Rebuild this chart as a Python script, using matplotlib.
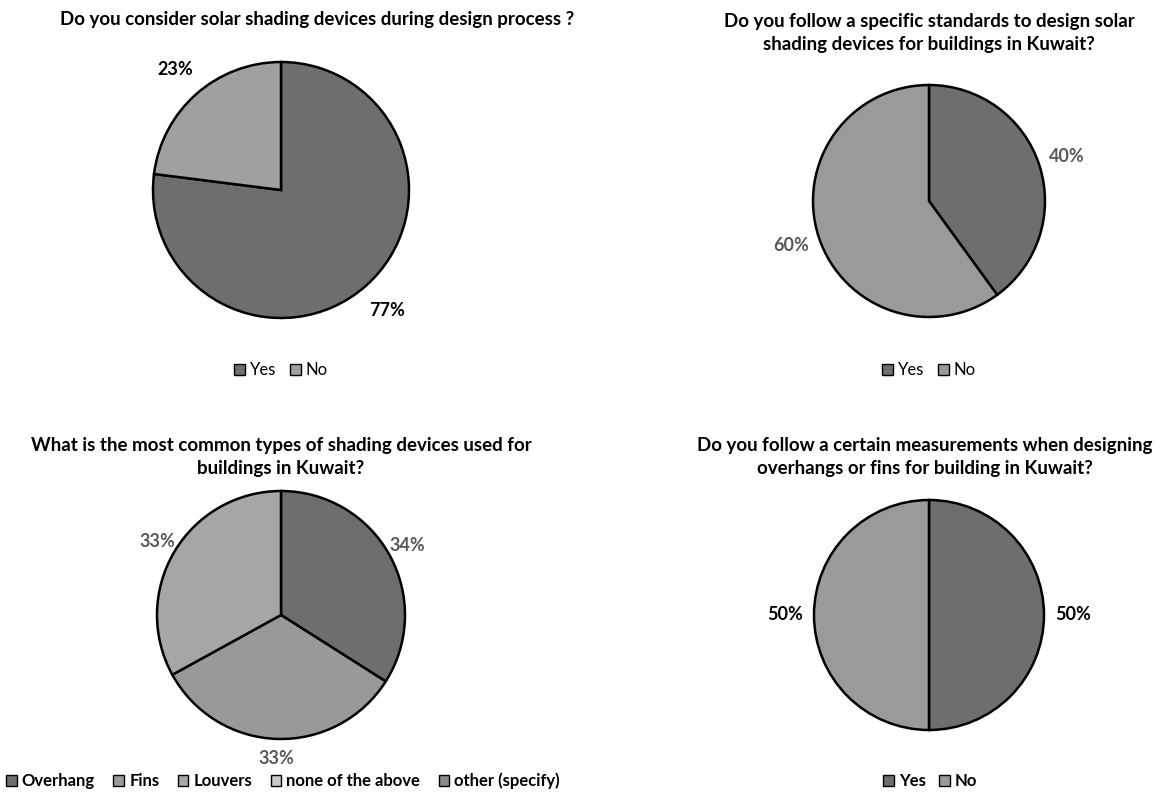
import matplotlib.pyplot as plt
from matplotlib.patches import Patch

plt.rcParams['font.family'] = ['Lato', 'DejaVu Sans']

W, H = 1168, 799

# survey answers
q1_title = "Do you consider solar shading devices during design process ?"
q1_labels = ["Yes", "No"]
q1_values = [77, 23]

q2_title = "Do you follow a specific standards to design solar\nshading devices for buildings in Kuwait?"
q2_labels = ["Yes", "No"]
q2_values = [40, 60]

q3_title = "What is the most common types of shading devices used for\nbuildings in Kuwait?"
q3_labels = ["Overhang", "Fins", "Louvers", "none of the above", "other (specify)"]
q3_values = [34, 33, 33, 0, 0]

q4_title = "Do you follow a certain measurements when designing\noverhangs or fins for building in Kuwait?"
q4_labels = ["Yes", "No"]
q4_values = [50, 50]

fig = plt.figure(figsize=(W / 100, H / 100), dpi=100)


def pie_axes(cx, cy, r):
    # axes in pixel coords, square around pie center
    pad = 1.45 * r
    return fig.add_axes([(cx - pad) / W, 1 - (cy + pad) / H, 2 * pad / W, 2 * pad / H])


def draw_pie(cx, cy, r, values, colors, lblcolor, dist=1.25):
    ax = pie_axes(cx, cy, r)
    shown = [v for v in values if v > 0]
    ax.pie(shown, colors=colors[:len(shown)], startangle=90, counterclock=False,
           radius=1 / 1.45, labels=[f"{v}%" for v in shown], labeldistance=dist,
           wedgeprops=dict(edgecolor='black', linewidth=1.8),
           textprops=dict(fontsize=13, fontweight='bold', color=lblcolor, ha='center', va='center'))
    ax.set_xlim(-1, 1)
    ax.set_ylim(-1, 1)
    ax.set_aspect('equal')
    ax.axis('off')
    return ax


def legend(x, y, labels, colors, bold, gap):
    handles = [Patch(facecolor=c, edgecolor='black', linewidth=1.0) for c in colors]
    fig.legend(handles, labels, loc='center', bbox_to_anchor=(x / W, 1 - y / H), ncol=len(labels),
               frameon=False, handlelength=0.65, handleheight=0.65, handletextpad=0.3,
               columnspacing=gap, prop=dict(size=12, weight='bold' if bold else 'normal'))


dark = '#6e6e6e'

draw_pie(281, 190, 128, q1_values, [dark, '#a0a0a0'], 'black')
draw_pie(929, 201, 116, q2_values, [dark, '#9a9a9a'], '#595959')
draw_pie(281, 615, 124, q3_values, [dark, '#999999', '#a6a6a6'], '#595959', dist=1.16)
draw_pie(929, 615, 115, q4_values, [dark, '#9a9a9a'], 'black')

fig.text(317 / W, 1 - 20 / H, q1_title, ha='center', va='center', fontsize=13.5, fontweight='bold')
fig.text(929 / W, 1 - 33 / H, q2_title, ha='center', va='center', fontsize=13.5, fontweight='bold',
         linespacing=1.45)
fig.text(281 / W, 1 - 457 / H, q3_title, ha='center', va='center', fontsize=13.5, fontweight='bold',
         linespacing=1.45)
fig.text(925 / W, 1 - 457 / H, q4_title, ha='center', va='center', fontsize=13.5, fontweight='bold',
         linespacing=1.45)

legend(281, 370, q1_labels, [dark, '#a0a0a0'], False, 0.8)
legend(929, 370, q2_labels, [dark, '#9a9a9a'], False, 0.8)
legend(283, 781, q3_labels, [dark, '#999999', '#a6a6a6', '#c8c8c8', '#8a8a8a'], True, 1.1)
legend(930, 781, q4_labels, [dark, '#9a9a9a'], True, 0.8)

fig.savefig('out.png', dpi=100, facecolor='white')
